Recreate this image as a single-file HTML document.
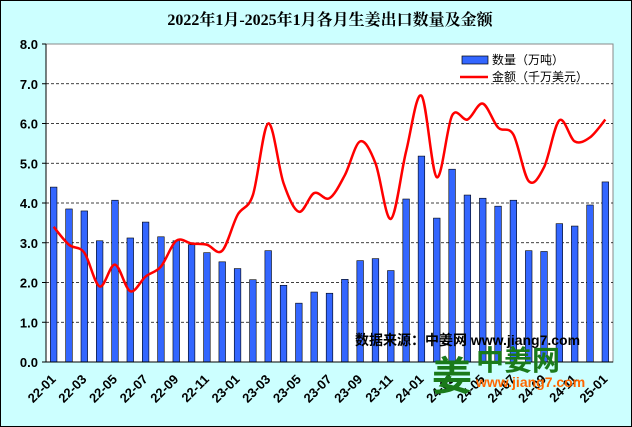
<!DOCTYPE html>
<html><head><meta charset="utf-8"><style>
body{margin:0;width:632px;height:427px;overflow:hidden;background:#ccffff}
svg{display:block}
</style></head><body>
<svg id="s" width="632" height="427" xmlns="http://www.w3.org/2000/svg" font-family="Liberation Sans, Noto Sans CJK SC, sans-serif">
<rect x="0.5" y="0.5" width="631" height="426" fill="#ccffff" stroke="#000"/>
<text x="330" y="25" text-anchor="middle" font-family="Liberation Serif, Noto Serif CJK SC, serif" font-size="16" font-weight="bold">2022年1月-2025年1月各月生姜出口数量及金额</text>
<rect x="46" y="44" width="567" height="318" fill="#fff" stroke="#888"/>
<g id="grid"></g>
<g id="bars"></g>
<path id="ln" fill="none" stroke="#ff0000" stroke-width="2.5"/>
<line x1="46" y1="44" x2="46" y2="362" stroke="#000"/>
<line x1="46" y1="362" x2="613" y2="362" stroke="#000"/>
<g id="yl" font-size="13" font-weight="bold" text-anchor="end"></g>
<g id="xl" font-size="13" font-weight="bold" text-anchor="end"></g>
<rect x="462" y="56" width="26" height="8" fill="#3366ff" stroke="#000" stroke-width="0.7"/>
<text x="492" y="64" font-size="12">数量（万吨）</text>
<line x1="460" y1="77" x2="488" y2="77" stroke="#f00" stroke-width="2.5"/>
<text x="492" y="81" font-size="12">金额（千万美元）</text>
<text x="355" y="345" font-size="14" font-weight="bold">数据来源：中姜网 www.jiang7.com</text>
<text x="432" y="390" font-size="40" font-weight="bold" fill="#1a7a1a">姜</text>
<text x="476" y="370" font-size="28" font-weight="bold" fill="#1a7a1a">中姜网</text>
<text x="476" y="387" font-size="14" font-weight="bold" fill="#ff6600">www.jiang7.com</text>
</svg>
<script>
var q=[4.4,3.85,3.8,3.05,4.07,3.12,3.52,3.15,3.05,2.95,2.75,2.52,2.35,2.07,2.8,1.93,1.48,1.76,1.73,2.08,2.55,2.6,2.3,4.1,5.18,3.62,4.85,4.2,4.12,3.92,4.07,2.8,2.78,3.48,3.42,3.95,4.53];
var v=[3.4,2.95,2.75,1.9,2.45,1.78,2.15,2.4,3.05,2.98,2.95,2.8,3.7,4.2,6.0,4.5,3.78,4.25,4.12,4.7,5.55,5.0,3.6,5.3,6.7,4.65,6.2,6.1,6.5,5.9,5.72,4.55,4.9,6.08,5.55,5.65,6.1];
var NS="http://www.w3.org/2000/svg";
function el(t,a,p,tx){var e=document.createElementNS(NS,t);for(var k in a)e.setAttribute(k,a[k]);if(tx)e.textContent=tx;document.getElementById(p).appendChild(e);}
function Y(val){return 362-val*39.75;}
var w=567/37;
for(var i=0;i<=8;i++){var y=Y(i);
 if(i>0&&i<8)el('line',{x1:46,x2:613,y1:y,y2:y,stroke:'#000','stroke-dasharray':'3,2','stroke-width':0.8},'grid');
 el('line',{x1:42,x2:46,y1:y,y2:y,stroke:'#000'},'grid');
 el('text',{x:38,y:y+5},'yl',i.toFixed(1));}
var pts=[];
for(var i=0;i<37;i++){var cx=46+w*(i+0.5);
 el('rect',{x:cx-3.3,y:Y(q[i]),width:6.6,height:q[i]*39.75,fill:'#3366ff',stroke:'#000','stroke-width':0.6},'bars');
 pts.push([cx,Y(v[i])]);
 if(i%2==0){var yr=22+Math.floor(i/12),m=i%12+1,ax=cx+3,ay=380;
  el('text',{x:ax,y:ay,transform:'rotate(-45 '+ax+' '+ay+')'},'xl',yr+'-'+(m<10?'0':'')+m);}}
var d='M'+pts[0][0]+','+pts[0][1];
for(var i=0;i<36;i++){var p0=pts[Math.max(0,i-1)],p1=pts[i],p2=pts[i+1],p3=pts[Math.min(36,i+2)];
 d+=' C'+(p1[0]+(p2[0]-p0[0])/6)+','+(p1[1]+(p2[1]-p0[1])/6)+' '+(p2[0]-(p3[0]-p1[0])/6)+','+(p2[1]-(p3[1]-p1[1])/6)+' '+p2[0]+','+p2[1];}
document.getElementById('ln').setAttribute('d',d);
</script>
</body></html>
